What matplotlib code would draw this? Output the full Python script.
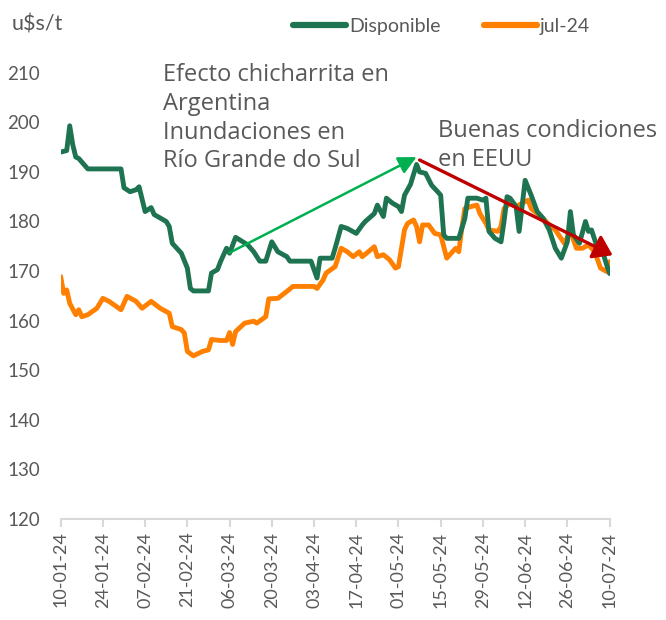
import matplotlib
matplotlib.use("Agg")
import matplotlib.pyplot as plt
import pandas as pd

# ---------------- data ----------------
disp_dates = ["2024-01-10","2024-01-12","2024-01-13","2024-01-14","2024-01-15","2024-01-16","2024-01-19",
              "2024-01-30","2024-01-31","2024-02-02","2024-02-04","2024-02-05","2024-02-07","2024-02-09",
              "2024-02-10","2024-02-14","2024-02-15","2024-02-16","2024-02-19","2024-02-21","2024-02-22",
              "2024-02-23","2024-02-28","2024-02-29","2024-03-02","2024-03-03","2024-03-05","2024-03-06",
              "2024-03-08","2024-03-12","2024-03-14","2024-03-16","2024-03-18","2024-03-20","2024-03-22",
              "2024-03-25","2024-03-26","2024-04-02","2024-04-04","2024-04-05","2024-04-09","2024-04-10",
              "2024-04-12","2024-04-14","2024-04-17","2024-04-19","2024-04-20","2024-04-23","2024-04-24",
              "2024-04-26","2024-04-27","2024-04-29","2024-05-01","2024-05-02","2024-05-03","2024-05-05",
              "2024-05-07","2024-05-08","2024-05-10","2024-05-12","2024-05-14","2024-05-15","2024-05-16",
              "2024-05-17","2024-05-21","2024-05-23","2024-05-24","2024-05-27","2024-05-29","2024-05-30",
              "2024-05-31","2024-06-02","2024-06-04","2024-06-05","2024-06-06","2024-06-07","2024-06-09",
              "2024-06-10","2024-06-12","2024-06-14","2024-06-16","2024-06-18","2024-06-20","2024-06-22",
              "2024-06-24","2024-06-26","2024-06-27","2024-06-28","2024-06-30","2024-07-02","2024-07-03",
              "2024-07-04","2024-07-06","2024-07-08","2024-07-09","2024-07-10"]
disp_values = [194.0, 194.3, 199.3, 195.5, 193.0, 192.7, 190.6,
               190.6, 186.8, 186.0, 186.4, 187.0, 182.0, 182.8,
               181.4, 180.0, 179.0, 175.6, 173.6, 170.6, 166.5,
               166.0, 166.0, 169.6, 170.3, 171.9, 174.6, 173.6,
               176.8, 175.3, 173.9, 172.0, 172.0, 175.9, 173.9,
               172.9, 172.0, 172.0, 168.6, 172.6, 172.6, 174.6,
               179.0, 178.6, 177.6, 179.3, 180.0, 181.6, 183.3,
               181.0, 184.7, 183.7, 183.0, 182.0, 185.3, 187.5,
               191.5, 190.0, 189.7, 187.3, 186.0, 185.3, 177.3,
               176.6, 176.6, 180.6, 184.7, 184.7, 184.3, 184.7,
               178.0, 176.6, 175.9, 180.0, 185.0, 184.7, 183.0,
               178.0, 188.3, 185.3, 182.0, 180.6, 178.3, 174.6,
               172.6, 175.9, 182.0, 177.3, 175.6, 180.0, 178.0,
               178.3, 174.6, 173.3, 171.3, 169.5]

jul_dates = ["2024-01-10","2024-01-11","2024-01-12","2024-01-13","2024-01-15","2024-01-16","2024-01-17",
             "2024-01-19","2024-01-22","2024-01-24","2024-01-26","2024-01-30","2024-02-01","2024-02-04",
             "2024-02-06","2024-02-09","2024-02-12","2024-02-15","2024-02-16","2024-02-19","2024-02-20",
             "2024-02-21","2024-02-23","2024-02-26","2024-02-28","2024-02-29","2024-03-03","2024-03-05",
             "2024-03-06","2024-03-07","2024-03-08","2024-03-11","2024-03-14","2024-03-15","2024-03-18",
             "2024-03-19","2024-03-22","2024-03-25","2024-03-27","2024-04-03","2024-04-04","2024-04-06",
             "2024-04-07","2024-04-10","2024-04-12","2024-04-14","2024-04-16","2024-04-18","2024-04-19",
             "2024-04-23","2024-04-24","2024-04-26","2024-04-28","2024-04-30","2024-05-01","2024-05-03",
             "2024-05-04","2024-05-06","2024-05-07","2024-05-08","2024-05-09","2024-05-11","2024-05-13",
             "2024-05-15","2024-05-17","2024-05-18","2024-05-20","2024-05-21","2024-05-22","2024-05-23",
             "2024-05-25","2024-05-27","2024-05-28","2024-05-30","2024-05-31","2024-06-03","2024-06-04",
             "2024-06-05","2024-06-07","2024-06-09","2024-06-11","2024-06-13","2024-06-14","2024-06-16",
             "2024-06-18","2024-06-20","2024-06-22","2024-06-25","2024-06-27","2024-06-29","2024-07-01",
             "2024-07-03","2024-07-05","2024-07-06","2024-07-07","2024-07-09","2024-07-10"]
jul_values = [168.9, 165.5, 166.2, 163.5, 161.2, 162.2, 160.8,
              161.2, 162.5, 164.5, 163.9, 162.2, 164.9, 163.9,
              162.5, 163.9, 162.5, 161.5, 158.8, 158.2, 157.5,
              153.8, 152.9, 153.8, 154.1, 156.2, 156.0, 156.0,
              157.6, 155.2, 157.8, 159.5, 159.9, 159.5, 160.8,
              164.4, 164.5, 165.9, 166.9, 166.9, 166.5, 168.2,
              169.6, 170.9, 174.6, 173.9, 172.9, 173.9, 172.9,
              174.9, 172.9, 173.3, 172.3, 170.6, 170.9, 178.3,
              179.6, 180.3, 179.0, 175.9, 179.3, 179.3, 177.6,
              177.3, 172.6, 173.3, 174.6, 173.9, 178.6, 182.6,
              183.0, 183.3, 181.6, 179.6, 178.3, 178.0, 179.0,
              182.6, 183.7, 183.0, 183.7, 184.3, 182.6, 181.6,
              180.6, 179.3, 178.3, 175.6, 178.0, 174.6, 174.6,
              175.3, 173.9, 172.3, 170.6, 169.9, 171.9]

series_names = ["Disponible", "jul-24"]
y_label = "u$s/t"
tick_start, tick_end = "2024-01-10", "2024-07-10"

note_left = "Efecto chicharrita en\nArgentina\nInundaciones en\nRío Grande do Sul"
note_right = "Buenas condiciones\nen EEUU"
arrow_up = (("2024-03-06", 173.7), ("2024-05-07", 193.0))
arrow_down = (("2024-05-08", 192.4), ("2024-07-11", 173.2))

# ---------------- style ----------------
GREEN = "#1E7350"
ORANGE = "#FF8000"
TXT = "#595959"
FONT = ["Lato", "DejaVu Sans"]
NOTE_FONT = ["Open Sans", "DejaVu Sans"]
plt.rcParams["font.family"] = FONT

fig = plt.figure(figsize=(6.66, 6.20), dpi=100)
ax = fig.add_axes([0.0911, 0.1629, 0.9153 - 0.0911, 0.8827 - 0.1629])

d1 = pd.to_datetime(disp_dates)
d2 = pd.to_datetime(jul_dates)
l1, = ax.plot(d1, disp_values, color=GREEN, lw=3.5, solid_joinstyle="round",
              solid_capstyle="round", label=series_names[0], zorder=3)
l2, = ax.plot(d2, jul_values, color=ORANGE, lw=3.5, solid_joinstyle="round",
              solid_capstyle="round", label=series_names[1], zorder=2)

ax.set_ylim(120, 210)
ax.set_yticks(range(120, 211, 10))
ticks = pd.date_range(tick_start, tick_end, freq="14D")
ax.set_xlim(pd.Timestamp(tick_start), pd.Timestamp(tick_end))
ax.set_xticks(ticks)
ax.set_xticklabels([t.strftime("%d-%m-%y") for t in ticks], rotation=90)

for s in ["top", "right", "left"]:
    ax.spines[s].set_visible(False)
ax.spines["bottom"].set_color("#D9D9D9")
ax.spines["bottom"].set_linewidth(1.5)
ax.tick_params(axis="x", colors="#D9D9D9", length=6, width=1.5, labelcolor=TXT,
               labelsize=13, pad=3)
ax.tick_params(axis="y", length=0, labelcolor=TXT, labelsize=13.5, pad=15)

fig.text(0.018, 0.960, y_label, color=TXT, fontsize=15.5, va="center", ha="left")

leg = fig.legend(handles=[l1, l2], loc="center", bbox_to_anchor=(0.663, 0.958), ncol=2,
                 frameon=False, fontsize=14, handlelength=2.75, handletextpad=0.15,
                 columnspacing=2.2, labelcolor=TXT)
for h in leg.get_lines():
    h.set_linewidth(4.5)

ax.text(pd.Timestamp("2024-02-13"), 212.0, note_left, fontsize=17, color=TXT,
        va="top", ha="left", linespacing=1.27, family=NOTE_FONT, clip_on=False)
ax.text(pd.Timestamp("2024-05-14"), 200.6, note_right, fontsize=17, color=TXT,
        va="top", ha="left", linespacing=1.27, family=NOTE_FONT, clip_on=False)

(a0, a1) = arrow_up
ax.annotate("", xy=(pd.Timestamp(a1[0]), a1[1]), xytext=(pd.Timestamp(a0[0]), a0[1]),
            arrowprops=dict(arrowstyle="-|>,head_length=0.9,head_width=0.45", color="#00B050",
                            lw=1.8, shrinkA=0, shrinkB=0, mutation_scale=12), zorder=5)
(b0, b1) = arrow_down
ax.annotate("", xy=(pd.Timestamp(b1[0]), b1[1]), xytext=(pd.Timestamp(b0[0]), b0[1]),
            arrowprops=dict(arrowstyle="-|>,head_length=0.8,head_width=0.55", color="#C00000",
                            lw=2.4, shrinkA=0, shrinkB=0, mutation_scale=14), zorder=5,
            annotation_clip=False)

fig.savefig("out.png", dpi=100)
